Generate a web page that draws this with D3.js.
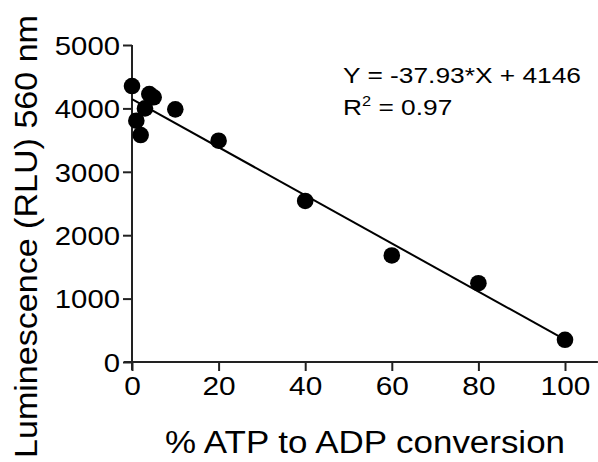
<!DOCTYPE html>
<html>
<head>
<meta charset="utf-8">
<script src="https://cdn.jsdelivr.net/npm/d3@7"></script>
<style>
  body { margin: 0; background: #fff; }
  text { font-family: "Liberation Sans", Arial, sans-serif; fill: #000; }
</style>
</head>
<body>
<div id="chart"></div>
<script>
// data
const conversion = [0, 1, 2, 3, 4, 5, 10, 20, 40, 60, 80, 100];
const luminescence = [4353, 3806, 3580, 4000, 4227, 4175, 3985, 3490, 2540, 1680, 1243, 350];
const slope = -37.93;
const intercept = 4146;
const xTicks = [0, 20, 40, 60, 80, 100];
const yTicks = [0, 1000, 2000, 3000, 4000, 5000];

const width = 598, height = 462;

const svg = d3.select("#chart")
    .append("svg")
    .attr("width", width)
    .attr("height", height);

const xScale = d3.scaleLinear().domain([0, 100]).range([132, 565]);
const yScale = d3.scaleLinear().domain([0, 5000]).range([362, 45]);

// x axis
const xAxis = svg.append("g")
    .attr("transform", `translate(0, ${yScale(0)})`)
    .call(d3.axisBottom(xScale).tickValues(xTicks).tickFormat(d3.format("d"))
        .tickSize(9).tickPadding(4).tickSizeOuter(0));
xAxis.select(".domain").remove();
xAxis.append("line")
    .attr("x1", xScale(0) - 8).attr("x2", xScale(107.6))
    .attr("stroke", "#222").attr("stroke-width", 2);
xAxis.selectAll(".tick line").attr("stroke", "#222").attr("stroke-width", 2);
xAxis.selectAll(".tick text")
    .style("font-size", "26px")
    .attr("fill", "#000")
    .attr("dy", "0.78em")
    .attr("textLength", d => String(d).length * 16.6)
    .attr("lengthAdjust", "spacingAndGlyphs");

// y axis
const yAxis = svg.append("g")
    .attr("transform", `translate(${xScale(0)}, 0)`)
    .call(d3.axisLeft(yScale).tickValues(yTicks).tickFormat(d3.format("d"))
        .tickSize(9).tickPadding(3).tickSizeOuter(0));
yAxis.select(".domain").remove();
yAxis.append("line")
    .attr("y1", yScale(5000)).attr("y2", yScale(0) + 8)
    .attr("stroke", "#222").attr("stroke-width", 2);
yAxis.selectAll(".tick line").attr("stroke", "#222").attr("stroke-width", 2);
yAxis.selectAll(".tick text")
    .style("font-size", "26px")
    .attr("fill", "#000")
    .attr("dy", "0.36em")
    .attr("textLength", d => String(d).length * 16.3)
    .attr("lengthAdjust", "spacingAndGlyphs");

// regression line
const fit = [0, 100].map(x => ({ x: x, y: slope * x + intercept }));
const line = d3.line().x(d => xScale(d.x)).y(d => yScale(d.y));
svg.append("path")
    .datum(fit)
    .attr("d", line)
    .attr("fill", "none")
    .attr("stroke", "#000")
    .attr("stroke-width", 2);

// points
svg.selectAll(".dot")
    .data(conversion.map((x, i) => ({ x: x, y: luminescence[i] })))
    .enter()
    .append("circle")
    .attr("class", "dot")
    .attr("cx", d => xScale(d.x))
    .attr("cy", d => yScale(d.y))
    .attr("r", 8.3)
    .attr("fill", "#000");

// axis titles
svg.append("text")
    .attr("x", 365)
    .attr("y", 453)
    .style("font-size", "31px")
    .style("text-anchor", "middle")
    .attr("textLength", 400)
    .attr("lengthAdjust", "spacingAndGlyphs")
    .text("% ATP to ADP conversion");

svg.append("text")
    .attr("transform", "translate(37, 236.5) rotate(-90)")
    .style("font-size", "31px")
    .style("text-anchor", "middle")
    .attr("textLength", 443)
    .attr("lengthAdjust", "spacingAndGlyphs")
    .text("Luminescence (RLU) 560 nm");

// equation
svg.append("text")
    .attr("x", 343)
    .attr("y", 83)
    .style("font-size", "22.5px")
    .attr("textLength", 238)
    .attr("lengthAdjust", "spacingAndGlyphs")
    .text("Y = -37.93*X + 4146");

const r2 = svg.append("g")
    .attr("transform", "translate(343, 115) scale(1.17, 1)")
    .append("text")
    .style("font-size", "22.5px");
r2.append("tspan").text("R");
r2.append("tspan").attr("dy", -9).style("font-size", "14px").text("2");
r2.append("tspan").attr("dy", 9).text(" = 0.97");
</script>
</body>
</html>
